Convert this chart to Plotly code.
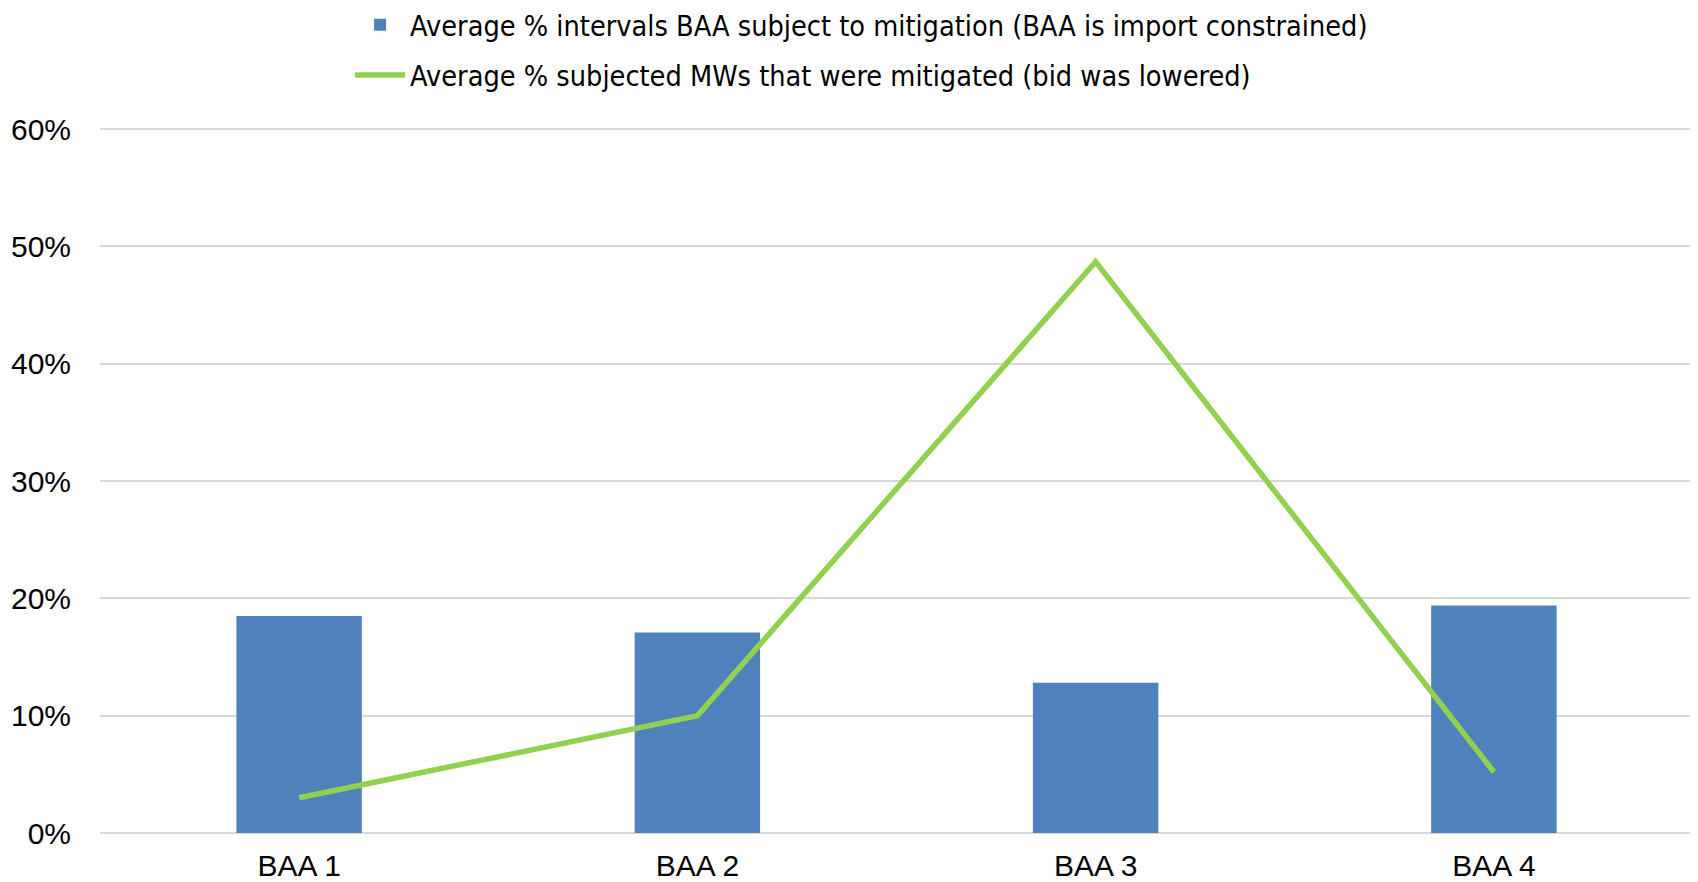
import plotly.graph_objects as go

# categories and series values
categories = ["BAA 1", "BAA 2", "BAA 3", "BAA 4"]
pct_intervals_subject = [0.185, 0.171, 0.128, 0.194]
pct_mws_mitigated = [0.030, 0.100, 0.487, 0.052]

y_ticks = [0, 0.1, 0.2, 0.3, 0.4, 0.5, 0.6]

fig = go.Figure()

# bars: share of intervals subject to mitigation
fig.add_trace(go.Bar(x=categories, y=pct_intervals_subject,
                     name="Average % intervals BAA subject to mitigation (BAA is import constrained)",
                     marker=dict(color="#4F81BD", line=dict(width=0)),
                     width=0.315, legendgroup="a"))

# line: share of subjected MWs actually mitigated
fig.add_trace(go.Scatter(x=categories, y=pct_mws_mitigated, mode="lines",
                         name="Average % subjected MWs that were mitigated (bid was lowered)",
                         line=dict(color="#92D050", width=5.5),
                         legendgroup="b"))

# page body adds ~8px offset, so the figure is a bit smaller than the window
fig.update_layout(
    width=1690, height=874,
    margin=dict(l=92, r=5, t=120, b=49, autoexpand=False),
    plot_bgcolor="white",
    paper_bgcolor="white",
    font=dict(family="Liberation Sans, Arial, sans-serif", size=30, color="black"),
    showlegend=True,
    legend=dict(
        x=0.157, xanchor="left",
        y=1.182, yanchor="top",
        font=dict(family="Liberation Sans Narrow, DejaVu Sans Condensed, Liberation Sans", size=28.6),
        tracegroupgap=10,
        itemwidth=50,
        bgcolor="rgba(0,0,0,0)",
    ),
    bargap=0.685,
)

fig.update_xaxes(showgrid=False, showline=False, ticks="outside", ticklen=6,
                 tickcolor="rgba(0,0,0,0)")
fig.update_yaxes(range=[0, 0.601], tickvals=y_ticks, tickformat=".0%",
                 showgrid=True, gridcolor="#D9D9D9", gridwidth=2,
                 zeroline=True, zerolinecolor="#D9D9D9", zerolinewidth=2,
                 showline=False, ticks="outside", ticklen=22,
                 tickcolor="rgba(0,0,0,0)")

fig.write_html("out.html")
